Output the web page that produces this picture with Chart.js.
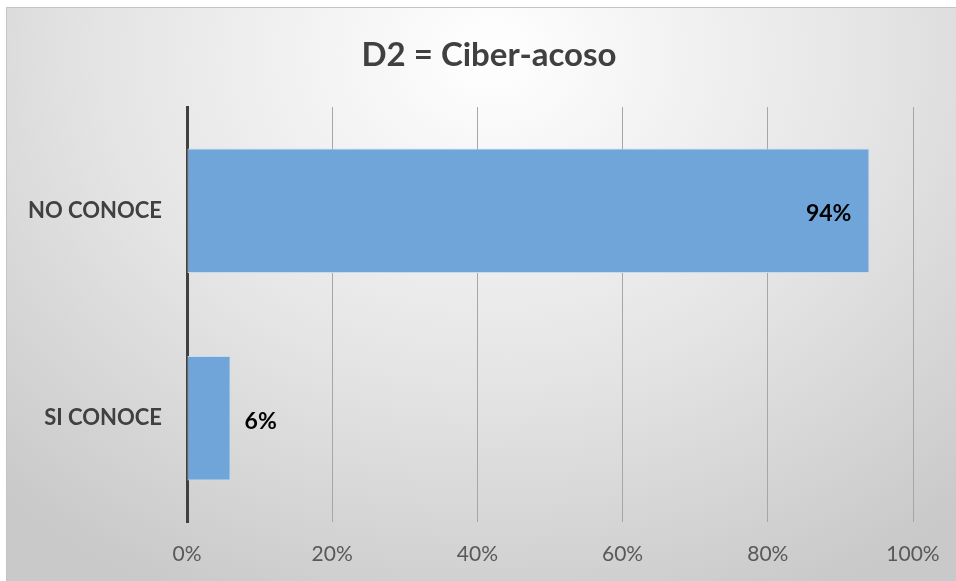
<!DOCTYPE html>
<html>
<head>
<meta charset="utf-8">
<script src="https://cdn.jsdelivr.net/npm/chart.js@4.4.1/dist/chart.umd.min.js"></script>
<style>
  html, body { margin: 0; padding: 0; background: #fff; overflow: hidden; }
  #frame {
    position: absolute; left: 6px; top: 7px;
    width: 949px; height: 573px;
    border-top: 1px solid #c4c4c4; border-left: 1px solid #c4c4c4;
    background: radial-gradient(ellipse 75% 105% at 51% 8%, #ffffff 0%, #e4e4e4 55%, #c9c9c9 100%);
  }
  #chart { display: block; }
</style>
</head>
<body>
<div id="frame"><canvas id="chart" width="949" height="573"></canvas></div>
<script>
const titulo = 'D2 = Ciber-acoso';
const categorias = ['NO CONOCE', 'SI CONOCE'];
const valores = [94, 6];
const ticksX = [0, 20, 40, 60, 80, 100];

const FONT = 'Lato, "Open Sans", sans-serif';

// titulo y etiquetas de datos dibujados a mano
const etiquetas = {
  id: 'etiquetas',
  afterDatasetsDraw(chart) {
    const { ctx } = chart;
    const meta = chart.getDatasetMeta(0);
    ctx.save();
    ctx.font = `bold 23px ${FONT}`;
    ctx.fillStyle = '#000';
    ctx.textBaseline = 'middle';
    meta.data.forEach((bar, i) => {
      const txt = valores[i] + '%';
      if (valores[i] > 50) {
        ctx.textAlign = 'right';
        ctx.fillText(txt, bar.x - 18, bar.y + 3);
      } else {
        ctx.textAlign = 'left';
        ctx.fillText(txt, bar.x + 14, bar.y + 3);
      }
    });
    ctx.font = `bold 33px ${FONT}`;
    ctx.fillStyle = '#404040';
    ctx.textAlign = 'center';
    ctx.fillText(titulo, 482, 47);
    ctx.restore();
  }
};

new Chart(document.getElementById('chart'), {
  type: 'bar',
  data: {
    labels: categorias,
    datasets: [{
      data: valores,
      backgroundColor: '#6fa5d8',
      borderColor: '#c5dcf0',
      borderWidth: 1,
      borderSkipped: false,
      barPercentage: 0.6,
      categoryPercentage: 1
    }]
  },
  options: {
    indexAxis: 'y',
    responsive: false,
    animation: false,
    layout: { padding: { top: 99, right: 43, left: 0, bottom: 0 } },
    plugins: { legend: { display: false }, tooltip: { enabled: false }, title: { display: false } },
    scales: {
      x: {
        min: 0, max: 100,
        afterBuildTicks: s => { s.ticks = ticksX.map(v => ({ value: v })); },
        afterFit: s => { s.height = 59; s.paddingRight = 0; s.paddingLeft = 0; },
        grid: { color: '#a6a6a6', lineWidth: 1, drawTicks: false },
        border: { display: false },
        ticks: { padding: 20, color: '#595959', font: { family: FONT, size: 21 }, callback: v => v + '%' }
      },
      y: {
        afterFit: s => { s.width = 180; },
        grid: { display: false, drawTicks: false },
        border: { color: '#404040', width: 3 },
        ticks: { padding: 25, color: '#404040', font: { family: FONT, size: 22, weight: 'bold' } }
      }
    }
  },
  plugins: [etiquetas]
});
</script>
</body>
</html>
